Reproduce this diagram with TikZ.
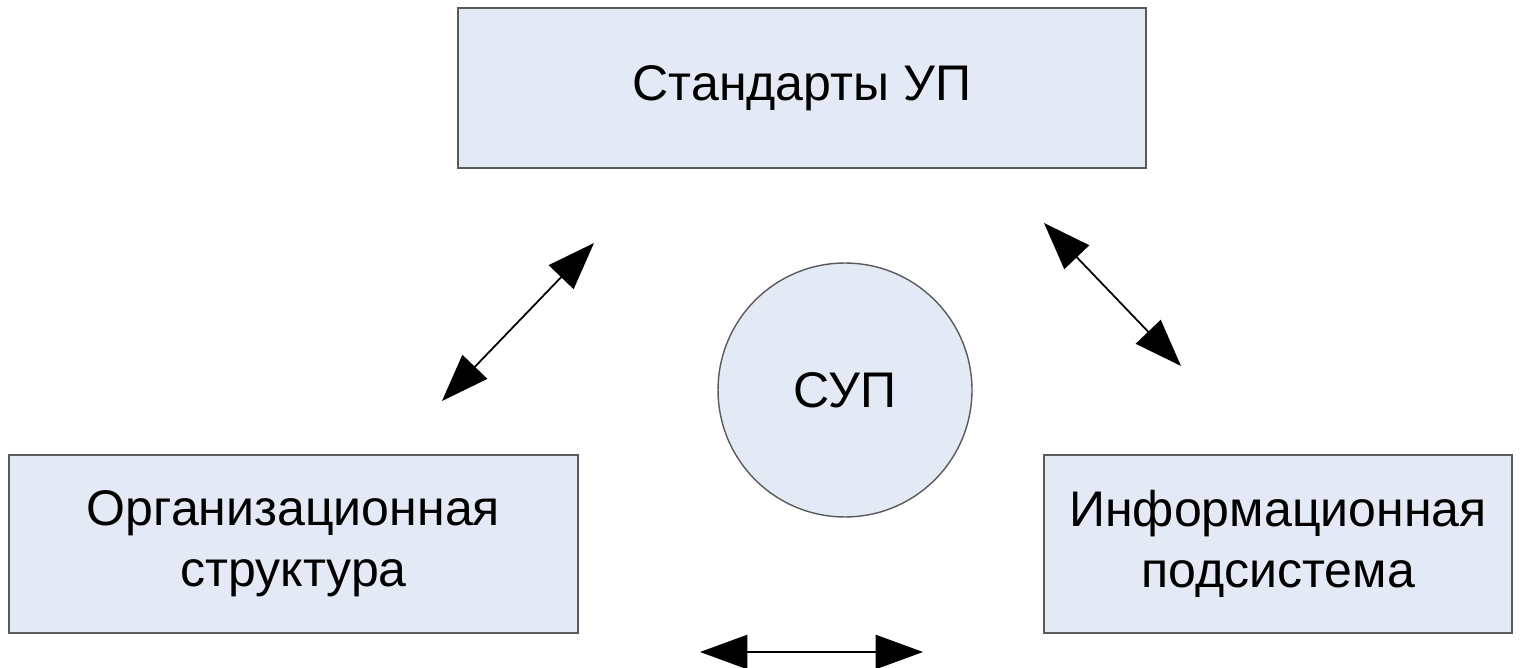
\documentclass[tikz,border=0pt]{standalone}
\usepackage{fontspec}
\setmainfont{Liberation Sans}
\usetikzlibrary{arrows.meta, calc, positioning}
\definecolor{boxfill}{RGB}{228,234,245}
\definecolor{boxline}{RGB}{90,90,90}

\begin{document}
\begin{tikzpicture}[x=0.02cm,y=-0.02cm,
	block/.style={draw=boxline, line width=0.8pt, fill=boxfill, align=center,
		inner sep=0pt, font=\fontsize{28.5}{34.7}\selectfont},
	link/.style={{Triangle[length=27pt,width=19.5pt]}-{Triangle[length=27pt,width=19.5pt]},
		line width=1pt}]
	\useasboundingbox (0,0) rectangle (1520,668);

	\coordinate (S)  at (802,88);
	\coordinate (O)  at (293.5,544);
	\coordinate (I)  at (1278,544);
	\coordinate (C)  at (845,390);

	\coordinate (A1) at (442,401);
	\coordinate (A2) at (594,243);
	\coordinate (B1) at (1044,223);
	\coordinate (B2) at (1181,366);
	\coordinate (D1) at (700,652);
	\coordinate (D2) at (923,652);

	\node[block, minimum width=13.76cm, minimum height=3.2cm] (std) at (S) {Стандарты УП};
	\node[block, minimum width=11.38cm, minimum height=3.56cm] (org) at (O) {Организационная\\структура};
	\node[block, minimum width=9.36cm, minimum height=3.56cm] (inf) at (I) {Информационная\\подсистема};
	\node[block, circle, minimum size=5.08cm] (sup) at (C) {СУП};

	\draw[link] (A1)--(A2);
	\draw[link] (B1)--(B2);
	\draw[link] (D1)--(D2);
\end{tikzpicture}
\end{document}
